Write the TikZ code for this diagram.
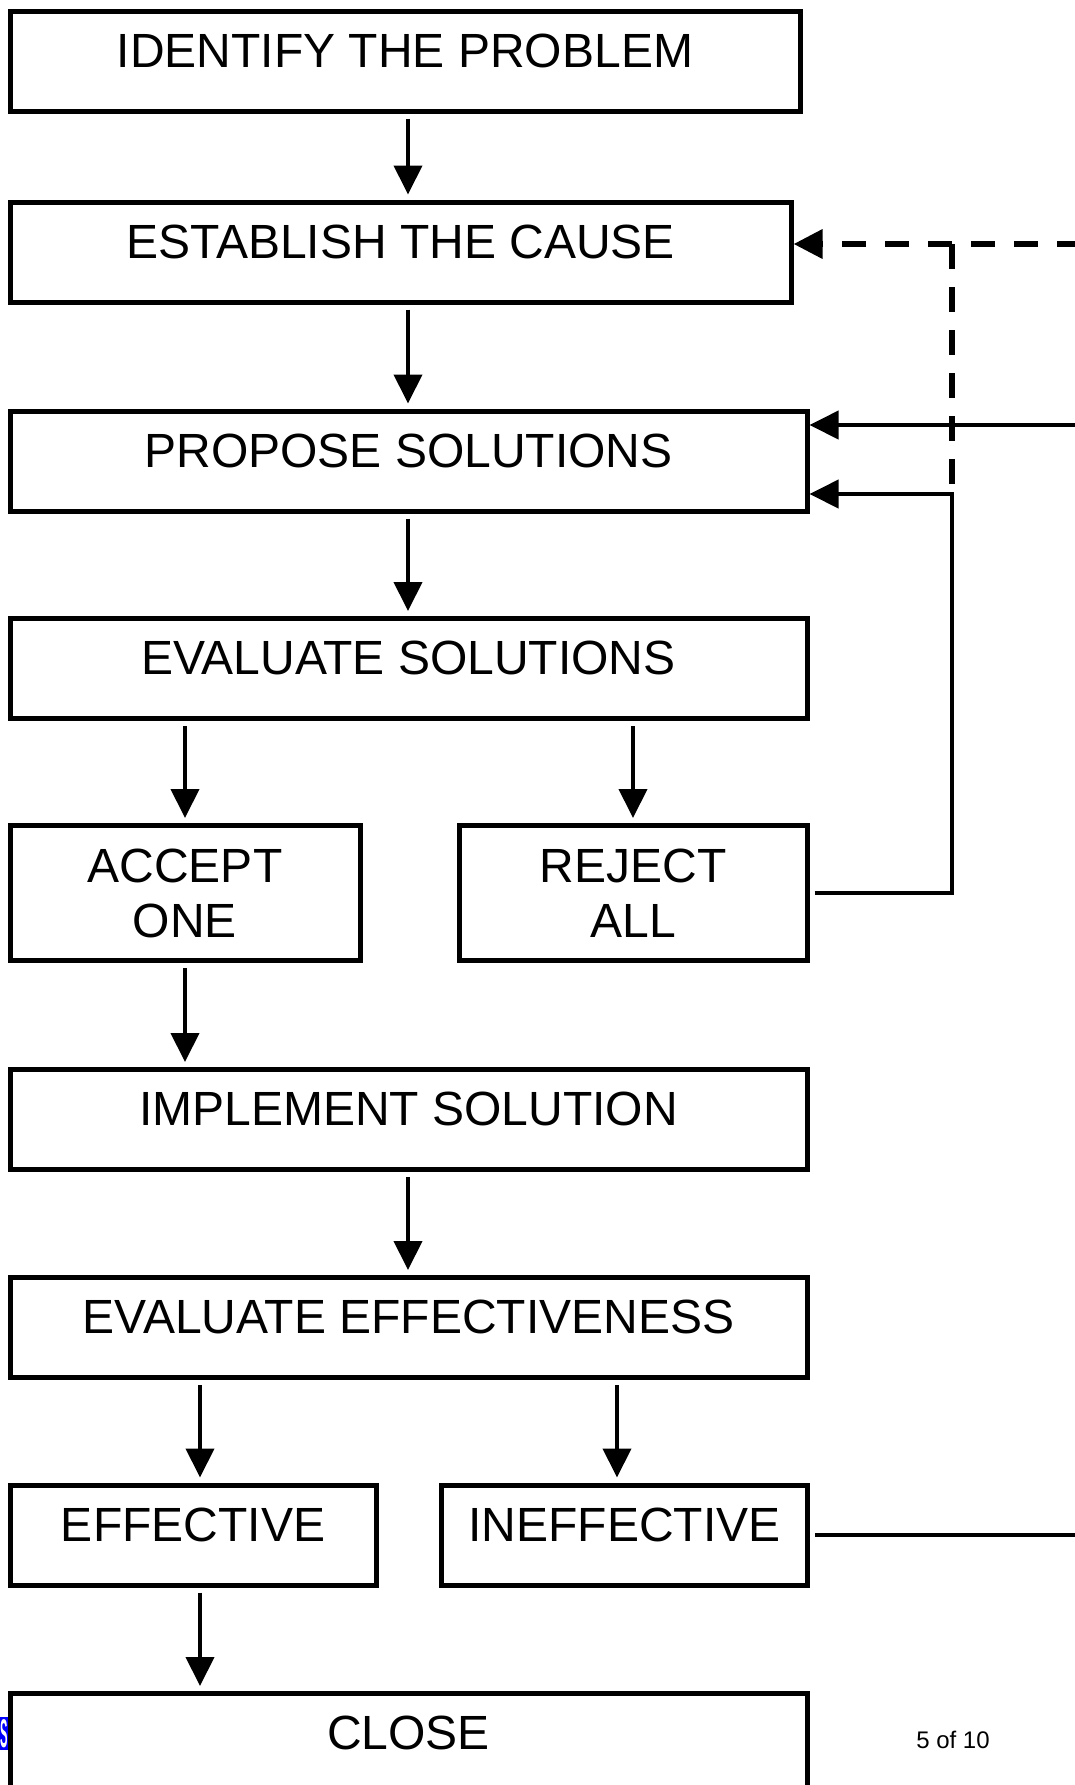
\documentclass[tikz,border=0pt]{standalone}
\usepackage{graphicx}
\usepackage{fontspec}
\setmainfont{Liberation Sans}
\usetikzlibrary{arrows.meta}
\begin{document}
\begin{tikzpicture}[x=0.5pt,y=-0.5pt,
  box/.style={draw, line width=2.5pt, inner sep=0pt, minimum height=50pt,
    font=\fontsize{24}{27.5}\selectfont, text height=28pt, text depth=22pt},
  box2/.style={draw, line width=2.5pt, inner sep=0pt, align=center,
    font=\fontsize{24}{27.5}\selectfont},
  conn/.style={line width=2pt},
  tipped/.style={conn, -{Triangle[width=14pt,length=14.5pt]}},
  vgap/.style={shorten <=2.5pt, shorten >=2.5pt},
  dashline/.style={line width=3.2pt, dash pattern=on 12.25pt off 9.25pt}]
\useasboundingbox (0,0) rectangle (1075,1785);

% boxes
\node[box, minimum width=395pt]   (idp) at (405,61)     {IDENTIFY THE PROBLEM};
\node[box, minimum width=390.5pt] (est) at (400.5,252)  {ESTABLISH THE CAUSE};
\node[box, minimum width=398.5pt] (pro) at (408.5,461)  {PROPOSE SOLUTIONS};
\node[box, minimum width=398.5pt] (evs) at (408.5,668.5) {EVALUATE SOLUTIONS};
\node[box2, minimum width=175pt, minimum height=67.5pt] (acc) at (185,893) {ACCEPT\\ONE};
\node[box2, minimum width=174pt, minimum height=67.5pt] (rej) at (633,893) {REJECT\\ALL};
\node[box, minimum width=398.5pt] (imp) at (408.5,1119.5) {IMPLEMENT SOLUTION};
\node[box, minimum width=398.5pt] (eve) at (408.5,1327.5) {EVALUATE EFFECTIVENESS};
\node[box, minimum width=183pt]   (eff) at (193,1535)   {EFFECTIVE};
\node[box, minimum width=183pt]   (ine) at (624.5,1535) {INEFFECTIVE};
\node[box, minimum width=398.5pt] (clo) at (408.5,1743.5) {CLOSE};

% page number and cut-off highlighted letter
\node[font=\fontsize{12}{14}\selectfont, inner sep=0pt] (pg) at (953,1740) {5 of 10};
\fill[blue] (0,1717) rectangle (8,1750);
\node[inner sep=0pt, text=white, font=\bfseries\fontsize{20}{20}\selectfont] (sl) at (4,1734) {\scalebox{0.28}[1]{S}};

% helper coordinates
\coordinate (mx) at (408,0);
\coordinate (ex) at (200,0);
\coordinate (ix) at (617,0);
\coordinate (d0) at (1075,244);
\coordinate (dc) at (952,244);
\coordinate (dj) at (952,494);
\coordinate (s0) at (1075,425);
\coordinate (s2) at (1075,1535);

% main flow
\draw[tipped, vgap] (idp.south -| mx) -- (est.north -| mx);
\draw[tipped, vgap] (est.south -| mx) -- (pro.north -| mx);
\draw[tipped, vgap] (pro.south -| mx) -- (evs.north -| mx);
\draw[tipped, vgap] (evs.south -| acc.north) -- (acc.north);
\draw[tipped, vgap] (evs.south -| rej.north) -- (rej.north);
\draw[tipped, vgap] (acc.south) -- (acc.south |- imp.north);
\draw[tipped, vgap] (imp.south -| mx) -- (eve.north -| mx);
\draw[tipped, vgap] (eve.south -| ex) -- (eff.north -| ex);
\draw[tipped, vgap] (eve.south -| ix) -- (ine.north -| ix);
\draw[tipped, vgap] (eff.south -| ex) -- (clo.north -| ex);

% feedback loops
\draw[dashline, dash phase=3pt, -{Triangle[width=14pt,length=14.5pt]}] (d0) -- (d0 -| est.east);
\draw[dashline] (dc) -- (dj);
\draw[tipped] (s0) -- (s0 -| pro.east);
\draw[tipped, shorten <=2.5pt] (rej.east) -| (dj) -- (dj -| pro.east);
\draw[conn, shorten <=2.5pt] (ine.east) -- (s2);
\end{tikzpicture}
\end{document}
